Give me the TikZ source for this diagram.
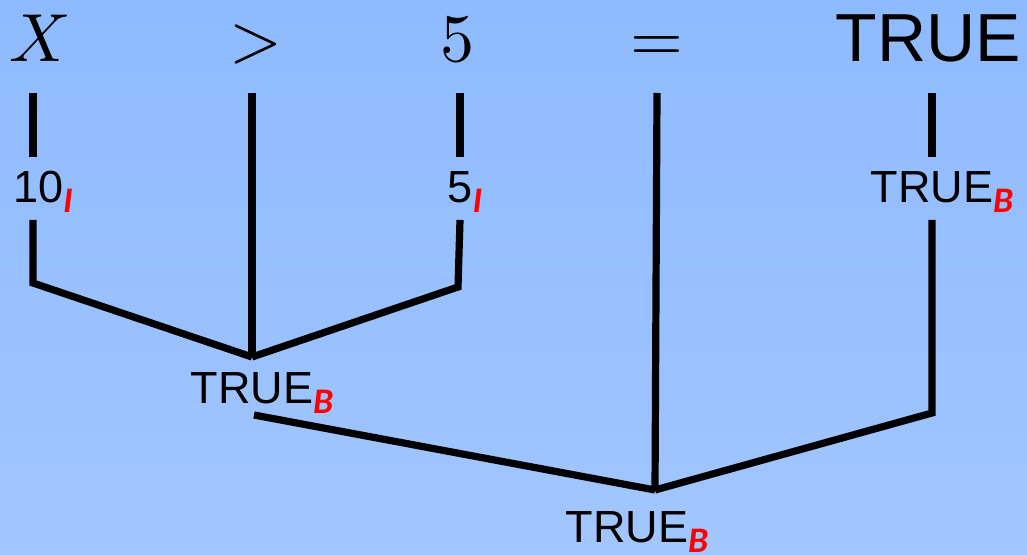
\documentclass[tikz,border=0pt]{standalone}
\usepackage{fontspec}
\setsansfont{Liberation Sans}
\newfontfamily\subfont{Carlito}
\usepackage{xcolor}
\usepackage{tikz}
\usetikzlibrary{positioning}

\definecolor{bgtop}{RGB}{142,186,255}
\definecolor{bgbot}{RGB}{162,198,255}
\newcommand{\typ}[1]{\raisebox{-5pt}{\subfont\fontsize{18}{20}\selectfont\bfseries\itshape\color{red}#1}}
\newcommand{\sym}[1]{\scalebox{3.4}{$#1$}}

\begin{document}
\begin{tikzpicture}[x=0.5pt,y=-0.5pt,
  tok/.style={inner sep=0pt,anchor=base,font=\fontsize{10}{12}\selectfont},
  lab/.style={inner sep=0pt,anchor=base,font=\sffamily\fontsize{22.5}{26}\selectfont},
  stem/.style={line width=3.6pt,line join=miter}]
\shade[top color=bgtop,bottom color=bgbot] (0,0) rectangle (1027,555);
\useasboundingbox (0,0) rectangle (1027,555);
% expression
\node[tok] (tx) at (40,62) {\sym{X}};
\node[tok] (tgt) at (256,62) {\sym{>}};
\node[tok] (tfive) at (457,62) {\sym{5}};
\node[tok] (teq) at (657,62) {\sym{=}};
\node[tok,font=\sffamily\fontsize{34}{40}\selectfont] (ttrue) at (928,62) {TRUE};
% values
\node[lab] (lten) at (43,203) {10\typ{I}};
\node[lab] (lfive) at (465,203) {5\typ{I}};
\node[lab] (lright) at (942,203) {TRUE\typ{B}};
\node[lab] (lmid) at (262,403) {TRUE\typ{B}};
\node[lab] (lbot) at (637,542) {TRUE\typ{B}};
% tree
\coordinate (ja) at (252,357);
\coordinate (jb) at (655,490);
\coordinate (xa) at (33,93);  \coordinate (xb) at (33,157);
\coordinate (xc) at (33,220); \coordinate (xd) at (33,283);
\coordinate (ga) at (252,93);
\coordinate (fa) at (460,93); \coordinate (fb) at (460,157);
\coordinate (fc) at (460,220); \coordinate (fd) at (458,287);
\coordinate (ma) at (254,415);
\coordinate (ea) at (657,93);
\coordinate (ra) at (932,93); \coordinate (rb) at (932,157);
\coordinate (rc) at (932,220); \coordinate (rd) at (932,413);
\draw[stem] (xa)--(xb); \draw[stem] (xc)--(xd)--(ja);
\draw[stem] (ga)--(ja);
\draw[stem] (fa)--(fb); \draw[stem] (fc)--(fd)--(ja);
\draw[stem] (ma)--(jb);
\draw[stem] (ea)--(jb);
\draw[stem] (ra)--(rb); \draw[stem] (rc)--(rd)--(jb);
\end{tikzpicture}
\end{document}
